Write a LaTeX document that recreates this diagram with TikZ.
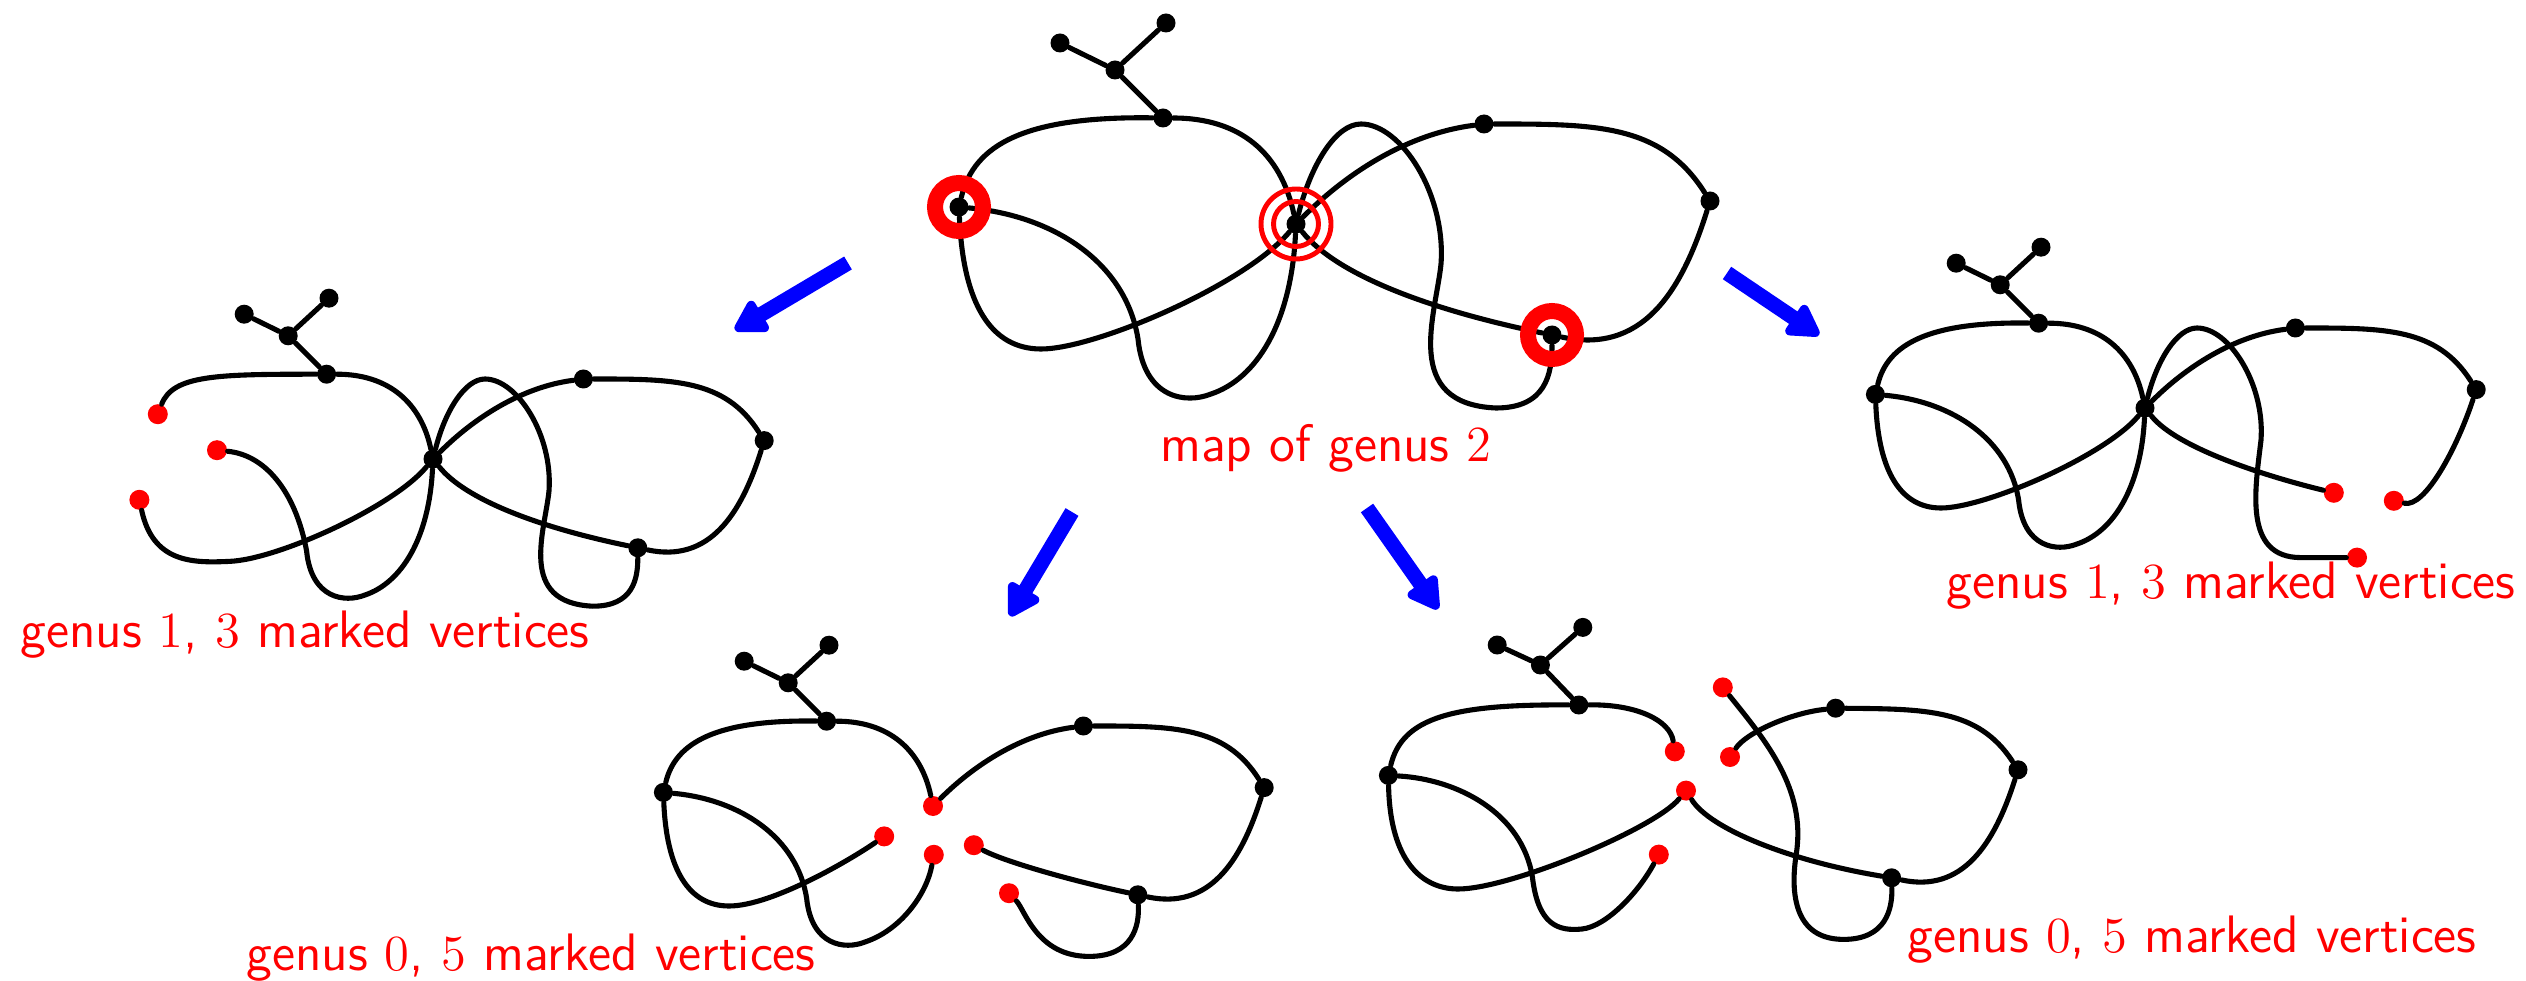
\documentclass[tikz,border=0pt]{standalone}
\usepackage{tikz}
\usetikzlibrary{arrows.meta}

\begin{document}
\begin{tikzpicture}[x=0.1mm,y=-0.1mm,
  vtx/.style={circle,fill=black,inner sep=0pt,minimum size=1.9mm},
  redvtx/.style={circle,fill=red,inner sep=0pt,minimum size=2mm},
  mapline/.style={line width=1.45pt,line cap=round},
  thickring/.style={draw=red,line width=1.6mm},
  thinring/.style={draw=red,line width=1.4pt},
  cutarrow/.style={draw=blue,line width=1.5mm,-{Triangle[round,length=3.6mm,width=3.9mm]}},
  caption/.style={text=red,anchor=base,font=\sffamily\fontsize{15}{18}\selectfont}
]
\useasboundingbox (0,0) rectangle (2526,981);

\begin{scope}[shift={(1296,224)}]
\node[vtx] (mA) at (-236,-181) {};
\node[vtx] (mB) at (-130,-201) {};
\node[vtx] (mC) at (-181,-154) {};
\node[vtx] (mT) at (-133,-106) {};
\node[vtx] (mL) at (-337,-17) {};
\node[vtx] (mX) at (0,0) {};
\node[vtx] (mP) at (188,-100) {};
\node[vtx] (mQ) at (414,-23) {};
\node[vtx] (mS) at (256,111) {};
\draw[mapline] (mA) -- (mC) -- (mB) (mC) -- (mT);
\draw[mapline] (mL) .. controls (-322,-80) and (-270,-108) .. (mT);
\draw[mapline] (mT) .. controls (-55,-106) and (-15,-70) .. (mX);
\draw[mapline] (mL) .. controls (-333,80) and (-305,125) .. (-255,125) .. controls (-200,125) and (-50,60) .. (mX);
\draw[mapline] (mL) .. controls (-240,-8) and (-170,40) .. (-158,115) .. controls (-152,175) and (-110,180) .. (-85,170) .. controls (-40,155) and (-5,100) .. (mX);
\draw[mapline] (mX) .. controls (50,-50) and (110,-90) .. (mP);
\draw[mapline] (mP) .. controls (300,-100) and (365,-100) .. (mQ);
\draw[mapline] (mQ) .. controls (385,70) and (345,130) .. (mS);
\draw[mapline] (mX) .. controls (40,50) and (130,85) .. (mS);
\draw[mapline] (mX) .. controls (15,-60) and (40,-100) .. (65,-100) .. controls (105,-100) and (150,-30) .. (145,40) .. controls (140,90) and (105,180) .. (200,184) .. controls (250,184) and (256,150) .. (mS);
\draw[thickring] (mL) circle[radius=2.4mm];
\draw[thickring] (mS) circle[radius=2.4mm];
\draw[thinring] (mX) circle[radius=3.5mm] (mX) circle[radius=2.25mm];
\end{scope}

\begin{scope}[shift={(433,459)},scale=0.8]
\node[vtx] (aA) at (-236,-181) {};
\node[vtx] (aB) at (-130,-201) {};
\node[vtx] (aC) at (-181,-154) {};
\node[vtx] (aT) at (-133,-106) {};
\node[vtx] (aX) at (0,0) {};
\node[vtx] (aP) at (188,-100) {};
\node[vtx] (aQ) at (414,-23) {};
\node[vtx] (aS) at (256,111) {};
\node[redvtx] (a1) at (-344,-56) {};
\node[redvtx] (a2) at (-270,-11) {};
\node[redvtx] (a3) at (-367,51) {};
\draw[mapline] (aA) -- (aC) -- (aB) (aC) -- (aT);
\draw[mapline] (a1) .. controls (-325,-105) and (-270,-106) .. (aT);
\draw[mapline] (aT) .. controls (-55,-106) and (-15,-70) .. (aX);
\draw[mapline] (a3) .. controls (-350,130) and (-300,130) .. (-255,128) .. controls (-195,126) and (-50,60) .. (aX);
\draw[mapline] (a2) .. controls (-210,-5) and (-172,40) .. (-158,115) .. controls (-152,175) and (-110,180) .. (-85,170) .. controls (-40,155) and (-5,100) .. (aX);
\draw[mapline] (aX) .. controls (50,-50) and (110,-90) .. (aP);
\draw[mapline] (aP) .. controls (300,-100) and (365,-100) .. (aQ);
\draw[mapline] (aQ) .. controls (385,70) and (345,130) .. (aS);
\draw[mapline] (aX) .. controls (40,50) and (130,85) .. (aS);
\draw[mapline] (aX) .. controls (15,-60) and (40,-100) .. (65,-100) .. controls (105,-100) and (150,-30) .. (145,40) .. controls (140,90) and (105,180) .. (200,184) .. controls (250,184) and (256,150) .. (aS);
\end{scope}

\begin{scope}[shift={(2145,408)},scale=0.8]
\node[vtx] (bA) at (-236,-181) {};
\node[vtx] (bB) at (-130,-201) {};
\node[vtx] (bC) at (-181,-154) {};
\node[vtx] (bT) at (-133,-106) {};
\node[vtx] (bL) at (-337,-17) {};
\node[vtx] (bX) at (0,0) {};
\node[vtx] (bP) at (188,-100) {};
\node[vtx] (bQ) at (414,-23) {};
\node[redvtx] (b7) at (311,116) {};
\node[redvtx] (b8) at (236,106) {};
\node[redvtx] (b9) at (265,187) {};
\draw[mapline] (bA) -- (bC) -- (bB) (bC) -- (bT);
\draw[mapline] (bL) .. controls (-322,-80) and (-270,-108) .. (bT);
\draw[mapline] (bT) .. controls (-55,-106) and (-15,-70) .. (bX);
\draw[mapline] (bL) .. controls (-333,80) and (-305,125) .. (-255,125) .. controls (-200,125) and (-50,60) .. (bX);
\draw[mapline] (bL) .. controls (-240,-8) and (-170,40) .. (-158,115) .. controls (-152,175) and (-110,180) .. (-85,170) .. controls (-40,155) and (-5,100) .. (bX);
\draw[mapline] (bX) .. controls (50,-50) and (110,-90) .. (bP);
\draw[mapline] (bP) .. controls (300,-100) and (365,-100) .. (bQ);
\draw[mapline] (bQ) .. controls (390,50) and (350,125) .. (b7);
\draw[mapline] (bX) .. controls (40,50) and (150,85) .. (b8);
\draw[mapline] (bX) .. controls (15,-60) and (40,-100) .. (65,-100) .. controls (105,-100) and (150,-30) .. (145,40) .. controls (138,100) and (122,187) .. (195,187) -- (b9);
\end{scope}

\begin{scope}[shift={(933,806)},scale=0.8]
\node[vtx] (cA) at (-236,-181) {};
\node[vtx] (cB) at (-130,-201) {};
\node[vtx] (cC) at (-181,-154) {};
\node[vtx] (cT) at (-133,-106) {};
\node[vtx] (cL) at (-337,-17) {};
\node[vtx] (cP) at (188,-100) {};
\node[vtx] (cQ) at (414,-23) {};
\node[vtx] (cS) at (256,111) {};
\node[redvtx] (c0) at (0,0) {};
\node[redvtx] (c3) at (-61,38) {};
\node[redvtx] (c4) at (1,61) {};
\node[redvtx] (c8) at (51,49) {};
\node[redvtx] (c9) at (95,109) {};
\draw[mapline] (cA) -- (cC) -- (cB) (cC) -- (cT);
\draw[mapline] (cL) .. controls (-322,-80) and (-270,-108) .. (cT);
\draw[mapline] (cT) .. controls (-55,-106) and (-15,-70) .. (c0);
\draw[mapline] (c0) .. controls (50,-50) and (110,-90) .. (cP);
\draw[mapline] (cP) .. controls (300,-100) and (365,-100) .. (cQ);
\draw[mapline] (cQ) .. controls (385,70) and (345,130) .. (cS);
\draw[mapline] (cL) .. controls (-333,80) and (-305,125) .. (-255,125) .. controls (-200,125) and (-100,65) .. (c3);
\draw[mapline] (cL) .. controls (-240,-8) and (-170,40) .. (-158,115) .. controls (-152,175) and (-110,180) .. (-85,170) .. controls (-40,155) and (-8,110) .. (c4);
\draw[mapline] (c8) .. controls (90,70) and (180,95) .. (cS);
\draw[mapline] (c9) .. controls (115,130) and (130,188) .. (195,188) .. controls (250,188) and (258,150) .. (cS);
\end{scope}

\begin{scope}[shift={(1686,789)},scale=0.8]
\node[vtx] (dA) at (-236,-180) {};
\node[vtx] (dB) at (-129,-202) {};
\node[vtx] (dC) at (-182,-155) {};
\node[vtx] (dT) at (-134,-105) {};
\node[vtx] (dL) at (-372,-17) {};
\node[vtx] (dP) at (187,-101) {};
\node[vtx] (dQ) at (415,-24) {};
\node[vtx] (dS) at (257,111) {};
\node[redvtx] (dt) at (-14,-47) {};
\node[redvtx] (dp) at (55,-40) {};
\node[redvtx] (d9) at (46,-127) {};
\node[redvtx] (dx) at (0,2) {};
\node[redvtx] (d4) at (-34,82) {};
\draw[mapline] (dA) -- (dC) -- (dB) (dC) -- (dT);
\draw[mapline] (dL) .. controls (-355,-90) and (-290,-106) .. (dT);
\draw[mapline] (dT) .. controls (-60,-106) and (-20,-85) .. (dt);
\draw[mapline] (dp) .. controls (75,-70) and (130,-95) .. (dP);
\draw[mapline] (dP) .. controls (300,-100) and (365,-100) .. (dQ);
\draw[mapline] (dQ) .. controls (385,70) and (345,130) .. (dS);
\draw[mapline] (dL) .. controls (-370,90) and (-330,125) .. (-285,125) .. controls (-220,125) and (-40,50) .. (dx);
\draw[mapline] (dx) .. controls (30,50) and (130,90) .. (dS);
\draw[mapline] (dL) .. controls (-285,-12) and (-205,30) .. (-192,110) .. controls (-185,170) and (-160,178) .. (-130,175) .. controls (-100,172) and (-60,130) .. (d4);
\draw[mapline] (d9) .. controls (100,-60) and (150,0) .. (138,80) .. controls (130,130) and (135,188) .. (197,188) .. controls (250,188) and (258,150) .. (dS);
\end{scope}

\coordinate (s1) at (848,263);
\coordinate (e1) at (735,330);
\coordinate (s2) at (1727,273);
\coordinate (e2) at (1819,335);
\coordinate (s3) at (1072,512);
\coordinate (e3) at (1010,616);
\coordinate (s4) at (1367,508);
\coordinate (e4) at (1438,609);
\draw[cutarrow] (s1) -- (e1);
\draw[cutarrow] (s2) -- (e2);
\draw[cutarrow] (s3) -- (e3);
\draw[cutarrow] (s4) -- (e4);

\node[caption] (gtwo) at (1326,462) {map of genus $2$};
\node[caption] (gleft) at (305,647) {genus $1$, $3$ marked vertices};
\node[caption] (gright) at (2231,598) {genus $1$, $3$ marked vertices};
\node[caption] (zleft) at (531,970) {genus $0$, $5$ marked vertices};
\node[caption] (zright) at (2192,952) {genus $0$, $5$ marked vertices};
\end{tikzpicture}
\end{document}
